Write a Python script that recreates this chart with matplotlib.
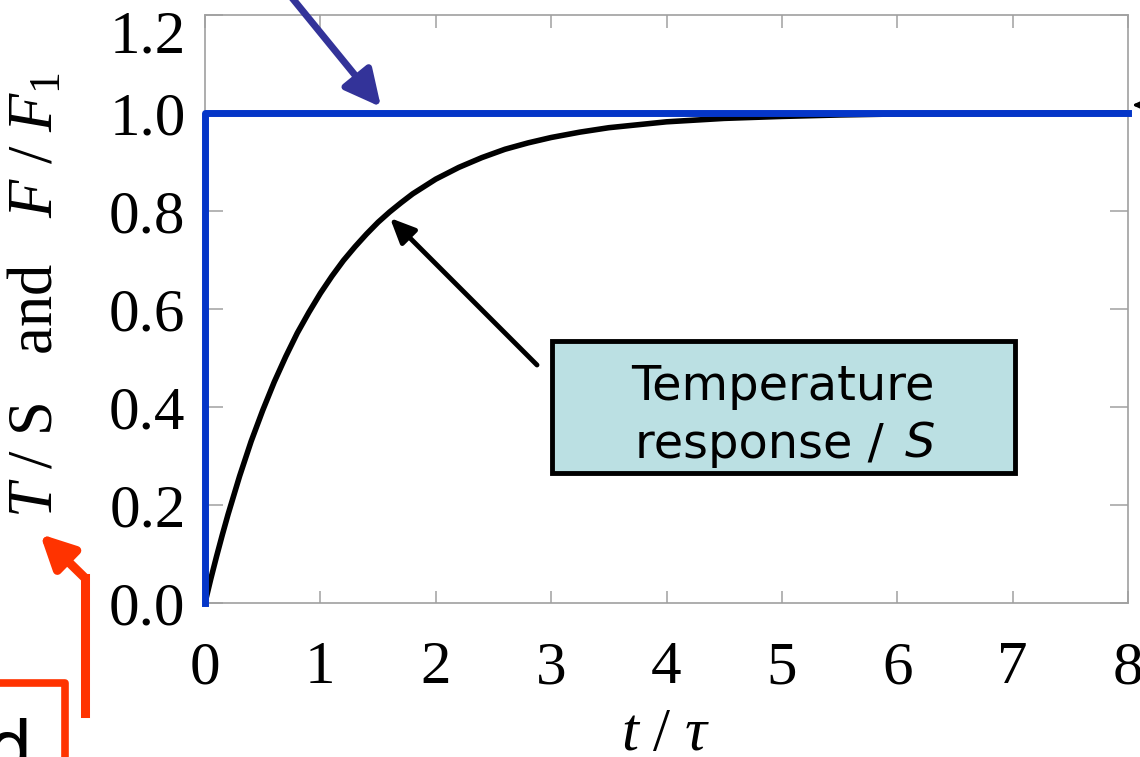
import numpy as np
import matplotlib
matplotlib.use("Agg")
from matplotlib import pyplot as plt
from matplotlib.lines import Line2D
from matplotlib.patches import Rectangle
from matplotlib.transforms import ScaledTranslation

# values
t_curve = [0, 0.05, 0.1, 0.15, 0.2, 0.3, 0.4, 0.5, 0.6, 0.7, 0.8, 0.9, 1.0,
           1.1, 1.2, 1.3, 1.4, 1.5, 1.6, 1.7, 1.8, 1.9, 2.0, 2.2, 2.4, 2.6,
           2.8, 3.0, 3.25, 3.5, 3.75, 4.0, 4.5, 5.0, 5.5, 6.0, 7.0, 8.0]
temp_resp = [0, 0.049, 0.095, 0.139, 0.181, 0.259, 0.330, 0.393, 0.451, 0.503,
             0.551, 0.593, 0.632, 0.667, 0.699, 0.727, 0.753, 0.777, 0.798,
             0.817, 0.835, 0.850, 0.865, 0.889, 0.909, 0.926, 0.939, 0.950,
             0.961, 0.970, 0.976, 0.982, 0.989, 0.993, 0.996, 0.998, 0.999, 1.0]
t_step = [0, 0, 8]
forcing = [0, 1, 1]
xticks = [0, 1, 2, 3, 4, 5, 6, 7, 8]
yticks = [0.0, 0.2, 0.4, 0.6, 0.8, 1.0, 1.2]

W, H = 1140, 757

plt.rcParams['mathtext.fontset'] = 'custom'
plt.rcParams['mathtext.rm'] = 'Liberation Serif'
plt.rcParams['mathtext.it'] = 'Liberation Serif:italic'

fig = plt.figure(figsize=(W / 100, H / 100), dpi=100)
ax = fig.add_axes([205 / W, 1 - 603 / H, (1128 - 205) / W, (603 - 15) / H])


def ff(x, y):
    # pixel (top-down) -> figure fraction
    return (x / W, 1 - y / H)


ax.plot(t_curve, temp_resp, color='black', lw=4, solid_capstyle='butt', zorder=2)
ax.plot(t_step, forcing, color='#0536c8', lw=5, clip_on=False, zorder=3)

ax.set_xlim(0, 8)
ax.set_ylim(0, 1.2)
ax.set_xticks(xticks)
ax.set_yticks(yticks)
ax.set_xticklabels([str(v) for v in xticks])
ax.set_yticklabels(['%.1f' % v for v in yticks])
for s in ax.spines.values():
    s.set_color('#a0a0a0')
    s.set_linewidth(1.2)
ax.tick_params(axis='both', direction='in', color='#a0a0a0', width=1.1,
               top=True, right=True, labelsize=44)
ax.tick_params(axis='x', length=9, pad=27)
ax.tick_params(axis='y', length=13, pad=14)
for lab in ax.get_xticklabels() + ax.get_yticklabels():
    lab.set_family('Liberation Serif')
# top label sits a bit lower in the original
top_lab = ax.get_yticklabels()[-1]
top_lab.set_transform(top_lab.get_transform() +
                      ScaledTranslation(0, -0.16, fig.dpi_scale_trans))

fig.text(*ff(666, 750), r'$t\ /\ \tau$', fontsize=44, ha='center', va='baseline')
fig.text(*ff(37, 295), r'$T\ /\ \mathrm{S}$   and   $F\ /\ F_1$', fontsize=45,
         family='Liberation Serif', rotation=90, ha='center', va='center')

# text box
ax.add_patch(Rectangle(ff(552, 473), 463 / W, 132 / H, transform=fig.transFigure,
                       facecolor='#bbe0e3', edgecolor='black', lw=3.5, zorder=4))
fig.text(*ff(783, 400), 'Temperature', fontsize=34.5, family='DejaVu Sans',
         ha='center', va='baseline', zorder=5)
fig.text(*ff(884, 458), 'response /', fontsize=34.5, family='DejaVu Sans',
         ha='right', va='baseline', zorder=5)
fig.text(*ff(905, 458), 'S', fontsize=34.5, family='DejaVu Sans', style='italic',
         ha='left', va='baseline', zorder=5)

# arrows
ax.annotate('', xy=ff(390, 218), xytext=ff(537, 365), xycoords='figure fraction',
            arrowprops=dict(arrowstyle='-|>,head_length=1.0,head_width=0.45',
                            mutation_scale=15, lw=3.5, color='black',
                            shrinkA=0, shrinkB=0), annotation_clip=False)
ax.annotate('', xy=ff(381, 107), xytext=ff(284, -12), xycoords='figure fraction',
            arrowprops=dict(arrowstyle='-|>,head_length=1.0,head_width=0.5',
                            mutation_scale=22, lw=5, color='#333399',
                            shrinkA=0, shrinkB=0), annotation_clip=False)
ax.annotate('', xy=ff(1132, 105), xytext=ff(1200, 105), xycoords='figure fraction',
            arrowprops=dict(arrowstyle='-|>,head_length=1.0,head_width=0.45',
                            mutation_scale=15, lw=2, color='black',
                            shrinkA=0, shrinkB=0), annotation_clip=False)

red = '#ff3300'
x0, y0 = ff(85, 713)
x1, y1 = ff(85, 578)
fig.add_artist(Line2D([x0, x1], [y0, y1], transform=fig.transFigure, color=red,
                      lw=6.5, solid_capstyle='projecting'))
ax.annotate('', xy=ff(40, 534), xytext=ff(85, 578), xycoords='figure fraction',
            arrowprops=dict(arrowstyle='-|>,head_length=1.0,head_width=0.5',
                            mutation_scale=20, lw=6.5, color=red,
                            shrinkA=0, shrinkB=0), annotation_clip=False)
bx, by = zip(ff(-5, 683), ff(65, 683), ff(65, 770))
fig.add_artist(Line2D(bx, by, transform=fig.transFigure, color=red, lw=5.5))
fig.text(*ff(33, 772), 'd', fontsize=52, family='DejaVu Sans', ha='right',
         va='baseline')

fig.savefig('out.png', dpi=100)
